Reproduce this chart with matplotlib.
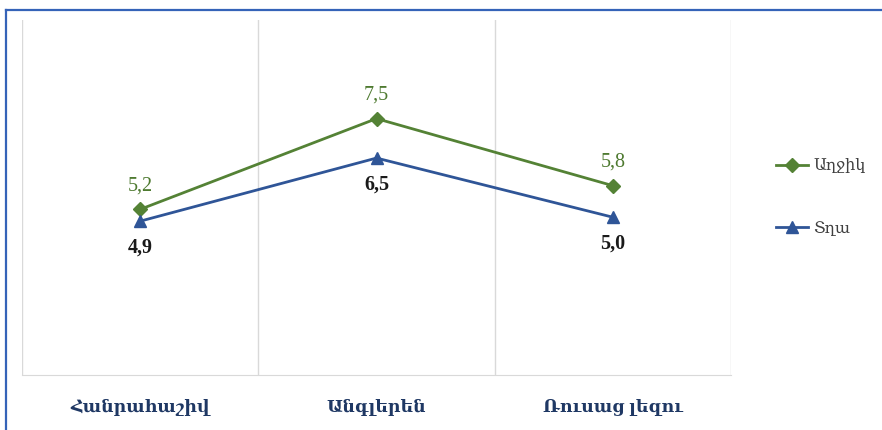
import matplotlib.pyplot as plt
from matplotlib.lines import Line2D

# data
categories = ['Հանրահաշիվ', 'Անգլերեն', 'Ռուսաց լեզու']
girls = [5.2, 7.5, 5.8]
boys = [4.9, 6.5, 5.0]
series_names = ['Աղջիկ', 'Տղա']

green = '#548235'
blue = '#2F5597'
fonts = ['Liberation Serif', 'DejaVu Serif']

fig = plt.figure(figsize=(8.82, 4.30), dpi=100)
ax = fig.add_axes([22 / 882, 55 / 430, 709 / 882, 355 / 430])

x = list(range(len(categories)))
ax.plot(x, girls, color=green, lw=2, marker='D', ms=7, label=series_names[0])
ax.plot(x, boys, color=blue, lw=2, marker='^', ms=8, label=series_names[1])

for i, v in enumerate(girls):
    ax.annotate(f'{v:.1f}'.replace('.', ','), (i, v), xytext=(0, 17), textcoords='offset points',
                ha='center', va='center', color='#4E7A30', fontsize=14.5, family=fonts)
for i, v in enumerate(boys):
    ax.annotate(f'{v:.1f}'.replace('.', ','), (i, v), xytext=(0, -19), textcoords='offset points',
                ha='center', va='center', color='#1a1a1a', fontsize=14.5, fontweight='bold', family=fonts)

ax.set_xlim(-0.5, len(categories) - 0.5)
ax.set_ylim(1, 10)
ax.set_yticks([])
ax.set_xticks(x)
ax.set_xticklabels(categories, fontsize=12.5, fontweight='bold', color='#1F3864', family=fonts)
ax.tick_params(axis='x', length=0, pad=17)
for b in [-0.5, 0.5, 1.5, 2.5]:
    ax.axvline(b, color='#d9d9d9', lw=1, zorder=0)
for s in ['top', 'right', 'left']:
    ax.spines[s].set_visible(False)
ax.spines['bottom'].set_color('#d9d9d9')

leg = fig.legend(loc='upper left', bbox_to_anchor=(762 / 882, 286 / 430), frameon=False,
                 labelspacing=2.9, handlelength=2.0, handletextpad=0.3,
                 prop={'family': fonts, 'size': 11.5})
for t in leg.get_texts():
    t.set_color('#404040')

# outer frame
fig.add_artist(Line2D([6 / 882, 1], [420 / 430, 420 / 430], color='#3563B8', lw=1.6))
fig.add_artist(Line2D([6 / 882, 6 / 882], [0, 420 / 430], color='#3563B8', lw=1.6))

fig.savefig('out.png', dpi=100)
